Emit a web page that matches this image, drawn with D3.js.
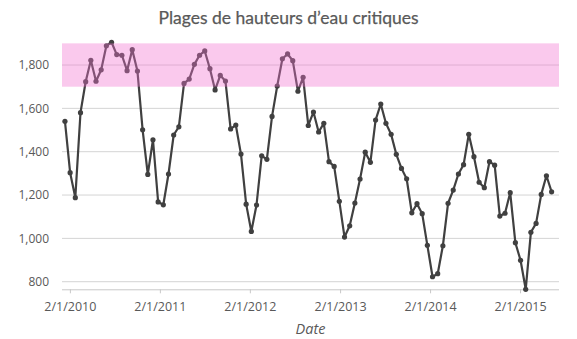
<!DOCTYPE html>
<html>
<head>
<meta charset="utf-8">
<script src="https://cdn.jsdelivr.net/npm/d3@7"></script>
<style>
  html, body { margin: 0; padding: 0; background: #fff; }
  svg { display: block; }
</style>
</head>
<body>
<svg id="chart" width="577" height="339"></svg>
<script>
// ---- data ----
const title = "Plages de hauteurs d\u2019eau critiques";
const xAxisTitle = "Date";
const startDate = "2010-01-12";   // first reading, one every 21 days
const stepDays = 21;
const levels = [
  1540, 1303, 1188, 1580, 1723, 1822, 1725, 1778, 1889, 1905,
  1848, 1845, 1774, 1871, 1772, 1501, 1295, 1455, 1168, 1155,
  1297, 1477, 1515, 1715, 1735, 1803, 1845, 1865, 1783, 1685,
  1752, 1726, 1505, 1523, 1389, 1158, 1032, 1154, 1381, 1365,
  1563, 1703, 1829, 1851, 1820, 1679, 1743, 1521, 1583, 1491,
  1531, 1354, 1332, 1171, 1006, 1058, 1163, 1274, 1398, 1351,
  1546, 1620, 1531, 1480, 1388, 1323, 1275, 1118, 1160, 1114,
  968, 823, 837, 966, 1162, 1223, 1297, 1340, 1480, 1377,
  1259, 1234, 1354, 1338, 1103, 1116, 1211, 980, 899, 765,
  1028, 1069, 1203, 1289, 1215
];
const xTickDates = ["2010-02-01", "2011-02-01", "2012-02-01", "2013-02-01", "2014-02-01", "2015-02-01"];
const xTickLabels = ["2/1/2010", "2/1/2011", "2/1/2012", "2/1/2013", "2/1/2014", "2/1/2015"];
const yTicks = [800, 1000, 1200, 1400, 1600, 1800];
const criticalRange = [1700, 1900];

// ---- layout ----
const svg = d3.select("#chart");
const mLeft = 62, mRight = 559, mTop = 43.35, mBottom = 289.3;
const parse = d3.utcParse("%Y-%m-%d");
const start = parse(startDate);
const dates = levels.map((_, i) => d3.utcDay.offset(start, i * stepDays));

const x = d3.scaleUtc()
  .domain([parse("2009-12-31"), parse("2015-07-09")])
  .range([mLeft, mRight]);
const y = d3.scaleLinear().domain([765, 1900]).range([mBottom, mTop]);

const font = "'Open Sans', 'Segoe UI', sans-serif";
const textColor = "#595959";

// gridlines
svg.append("g").selectAll("line").data(yTicks).join("line")
  .attr("x1", mLeft).attr("x2", mRight)
  .attr("y1", d => y(d)).attr("y2", d => y(d))
  .attr("stroke", "#d4d4d4").attr("stroke-width", 1);

// y labels
svg.append("g").selectAll("text").data(yTicks).join("text")
  .attr("x", 49).attr("y", d => y(d))
  .attr("dy", "0.35em")
  .attr("text-anchor", "end")
  .attr("font-family", font).attr("font-size", 12)
  .attr("fill", textColor)
  .text(d => d3.format(",")(d));

// x axis
const xAxis = d3.axisBottom(x)
  .tickValues(xTickDates.map(parse))
  .tickFormat((d, i) => xTickLabels[i])
  .tickSize(4).tickSizeOuter(0).tickPadding(9);
const gx = svg.append("g").attr("transform", `translate(0,${mBottom})`).call(xAxis);
gx.select(".domain").attr("stroke", "#c8c8c8").attr("d", `M${mLeft},0.5H${mRight}`);
gx.selectAll(".tick line").attr("stroke", "#c8c8c8");
gx.selectAll(".tick text").attr("font-family", font).attr("font-size", 12.5).attr("fill", textColor);

// line
const line = d3.line().x((d, i) => x(dates[i])).y(d => y(d));
svg.append("path").datum(levels)
  .attr("d", line)
  .attr("fill", "none")
  .attr("stroke", "#404040")
  .attr("stroke-width", 2.2)
  .attr("stroke-linejoin", "round");

svg.append("g").selectAll("circle").data(levels).join("circle")
  .attr("cx", (d, i) => x(dates[i]))
  .attr("cy", d => y(d))
  .attr("r", 2.6)
  .attr("fill", "#404040");

// critical band (semi-transparent, drawn on top)
svg.append("rect")
  .attr("x", mLeft).attr("width", mRight - mLeft)
  .attr("y", y(criticalRange[1]))
  .attr("height", y(criticalRange[0]) - y(criticalRange[1]))
  .attr("fill", "rgb(242,112,208)")
  .attr("fill-opacity", 0.38);

// title
svg.append("text")
  .attr("x", 288.5).attr("y", 24)
  .attr("text-anchor", "middle")
  .attr("font-family", "Lato, 'Open Sans', sans-serif").attr("font-size", 17.5)
  .attr("fill", "#595959")
  .attr("stroke", "#595959").attr("stroke-width", 0.25)
  .text(title);

// x axis title
svg.append("text")
  .attr("x", (mLeft + mRight) / 2).attr("y", 334)
  .attr("text-anchor", "middle")
  .attr("font-family", font).attr("font-size", 14.5).attr("font-style", "italic")
  .attr("fill", textColor)
  .text(xAxisTitle);
</script>
</body>
</html>
